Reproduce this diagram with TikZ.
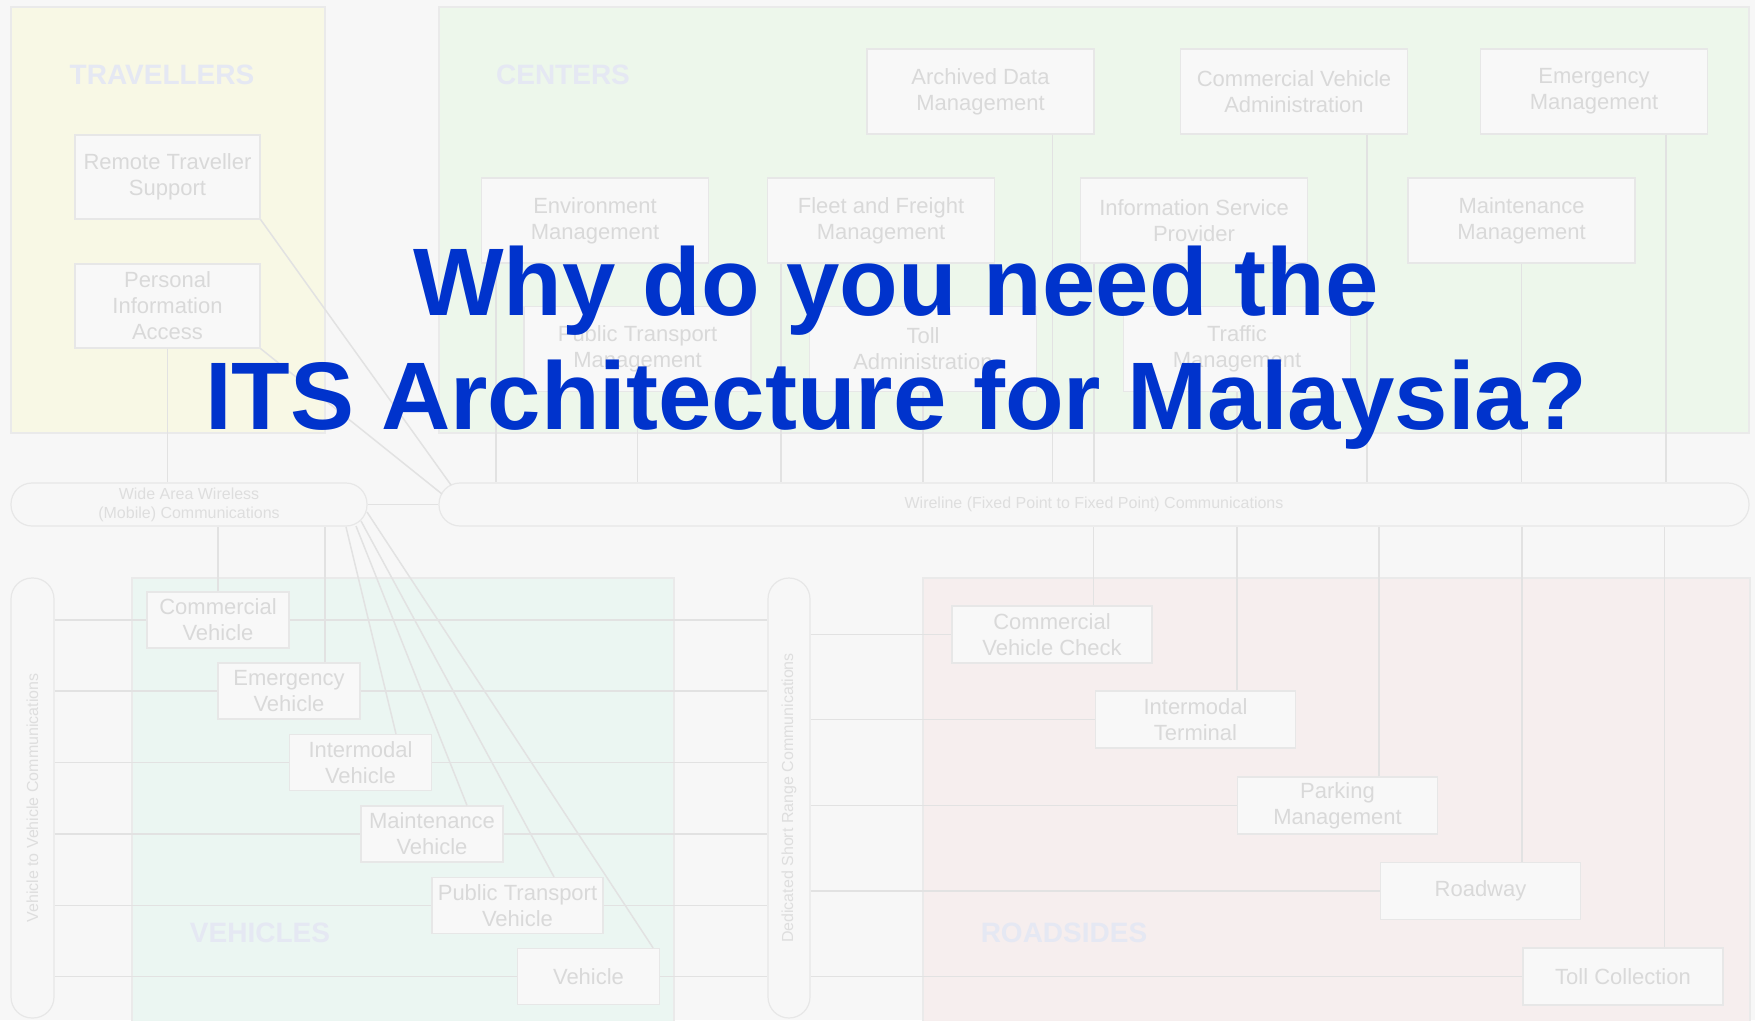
\documentclass[tikz,border=0pt]{standalone}
\usepackage{fontspec}
\setmainfont{Liberation Sans}
\usepackage{graphicx}
\usetikzlibrary{calc}
\definecolor{bgcol}{HTML}{F7F7F7}
\definecolor{boxfill}{HTML}{F8F8F8}
\definecolor{boxline}{HTML}{E7E7E7}
\definecolor{boxtext}{HTML}{D9D9D9}
\definecolor{bustext}{HTML}{DEDEDE}
\definecolor{linecol}{HTML}{E2E2E2}
\definecolor{regline}{HTML}{EAEAEA}
\definecolor{regtext}{HTML}{E5E8F3}
\definecolor{travfill}{HTML}{F8F8E5}
\definecolor{centfill}{HTML}{EDF7EB}
\definecolor{vehfill}{HTML}{EBF6F2}
\definecolor{roadfill}{HTML}{F6EEEE}
\definecolor{titleblue}{HTML}{0033CC}
\begin{document}
\begin{tikzpicture}[x=1pt,y=-1pt,
  unit/.style={draw=boxline, line width=1.2pt, fill=boxfill, text=boxtext, align=center, inner sep=0pt, font=\fontsize{22}{26}\selectfont},
  tbox/.style={unit, minimum width=185, minimum height=84},
  cbox/.style={unit, minimum width=227, minimum height=85},
  vbox/.style={unit, minimum width=142, minimum height=56},
  rbox/.style={unit, minimum width=200, minimum height=57},
  bus/.style={draw=boxline, line width=1.2pt, fill=bgcol, text=bustext, rounded corners=21pt, inner sep=0pt, align=center, font=\fontsize{16}{19}\selectfont},
  link/.style={draw=linecol, line width=1.5pt},
  region/.style={draw=regline, line width=1.2pt},
  regname/.style={text=regtext, font=\fontsize{28}{30}\selectfont\bfseries},
  headline/.style={text=titleblue, font=\fontsize{96}{115}\selectfont\bfseries, anchor=base}]
    \useasboundingbox (0,0) rectangle (1755,1020);
    \fill[bgcol] (0,0) rectangle (1755,1020);

    % regions
    \filldraw[region, fill=travfill] (11,7) rectangle (325,433);
    \filldraw[region, fill=centfill] (439,7) rectangle (1749,433);
    \filldraw[region, fill=vehfill] (132,578) rectangle (674,1026);
    \filldraw[region, fill=roadfill] (923,578) rectangle (1750,1026);
    \node[regname] (travname) at (162,75) {TRAVELLERS};
    \node[regname] (centname) at (563,75) {CENTERS};
    \node[regname] (vehname) at (260,933) {VEHICLES};
    \node[regname] (roadname) at (1064,933) {ROADSIDES};

    % travellers
    \node[tbox] (rts) at (167.5,177) {Remote Traveller\\Support};
    \node[tbox] (pia) at (167.5,306) {Personal\\Information\\Access};

    % centers
    \node[cbox] (adm) at (980.5,91.5) {Archived Data\\Management};
    \node[cbox] (cva) at (1294,91.5) {Commercial Vehicle\\Administration};
    \node[cbox] (em) at (1594,91.5) {Emergency\\Management};
    \node[cbox] (env) at (595,220.5) {Environment\\Management};
    \node[cbox] (ffm) at (881,220.5) {Fleet and Freight\\Management};
    \node[cbox] (isp) at (1194,220.5) {Information Service\\Provider};
    \node[cbox] (mm) at (1521.5,220.5) {Maintenance\\Management};
    \node[cbox] (ptm) at (637.5,349) {Public Transport\\Management};
    \node[cbox] (ta) at (923,349) {Toll\\Administration};
    \node[cbox] (tm) at (1237,349) {Traffic\\Management};

    % communications
    \node[bus, minimum width=356, minimum height=43] (wide) at (189,504.5) {Wide Area Wireless\\(Mobile) Communications};
    \node[bus, minimum width=1310, minimum height=43] (wire) at (1094,504.5) {Wireline (Fixed Point to Fixed Point) Communications};
    \node[bus, minimum width=43, minimum height=440] (v2v) at (32.5,798) {\rotatebox{90}{Vehicle to Vehicle Communications}};
    \node[bus, minimum width=42, minimum height=440] (dsrc) at (789,798) {\rotatebox{90}{Dedicated Short Range Communications}};

    % vehicles
    \node[vbox] (cv) at (218,620) {Commercial\\Vehicle};
    \node[vbox] (ev) at (289,691) {Emergency\\Vehicle};
    \node[vbox] (iv) at (360.5,762.5) {Intermodal\\Vehicle};
    \node[vbox] (mv) at (432,834) {Maintenance\\Vehicle};
    \node[vbox, minimum width=171] (ptv) at (517.5,905.5) {Public Transport\\Vehicle};
    \node[vbox] (veh) at (588.5,976.5) {Vehicle};

    % roadsides
    \node[rbox] (cvc) at (1052,634.5) {Commercial\\Vehicle Check};
    \node[rbox] (it) at (1195.5,719.5) {Intermodal\\Terminal};
    \node[rbox] (pm) at (1337.5,805.5) {Parking\\Management};
    \node[rbox] (rw) at (1480.5,891) {Roadway};
    \node[rbox] (tc) at (1623,976.5) {Toll Collection};

    \coordinate (wa) at (451,485);
    \coordinate (wb) at (442,494);
    \coordinate (w1) at (346,527);
    \coordinate (w2) at (356,526);
    \coordinate (w3) at (361,521);
    \coordinate (w4) at (367,512);

    % links
    \draw[link] (pia.south) -- (pia.south |- wide.north);
    \draw[link] (rts.south east) -- (wa);
    \draw[link] (pia.south east) -- (wb);
    \draw[link] (wide.east) -- (wire.west);

    \draw[link] ($(env.south west)+(15,0)$) coordinate (a) -- (a |- wire.north);
    \draw[link] (ptm.south) -- (ptm.south |- wire.north);
    \draw[link] ($(ffm.south west)+(14,0)$) coordinate (a) -- (a |- wire.north);
    \draw[link] (ta.south) -- (ta.south |- wire.north);
    \draw[link] ($(adm.south east)+(-42,0)$) coordinate (a) -- (a |- wire.north);
    \draw[link] ($(isp.south west)+(14,0)$) coordinate (a) -- (a |- wire.north);
    \draw[link] (tm.south) -- (tm.south |- wire.north);
    \draw[link] ($(cva.south east)+(-41,0)$) coordinate (a) -- (a |- wire.north);
    \draw[link] (mm.south) -- (mm.south |- wire.north);
    \draw[link] ($(em.south east)+(-42,0)$) coordinate (a) -- (a |- wire.north);

    \foreach \r in {cvc,it,pm,rw,tc} {
        \draw[link] ($(\r.north west)+(142,0)$) coordinate (a) -- (a |- wire.south);
        \draw[link] (dsrc.east |- \r.west) -- (\r.west);
    }

    \draw[link] (cv.north) -- (cv.north |- wide.south);
    \draw[link] ($(ev.north)+(36,0)$) coordinate (a) -- (a |- wide.south);
    \draw[link] (w1) -- ($(iv.north)+(35.5,0)$);
    \draw[link] (w2) -- ($(mv.north)+(35,0)$);
    \draw[link] (w3) -- ($(ptv.north)+(36.5,0)$);
    \draw[link] (w4) -- ($(veh.north east)+(-7,0)$);

    \foreach \v in {cv,ev,iv,mv,ptv,veh} {
        \draw[link] (v2v.east |- \v.west) -- (\v.west);
        \draw[link] (\v.east) -- (dsrc.west |- \v.east);
    }

    % title
    \node[headline] (t1) at (896,315) {Why do you need the};
    \node[headline] (t2) at (896,429) {ITS Architecture for Malaysia?};
\end{tikzpicture}
\end{document}
